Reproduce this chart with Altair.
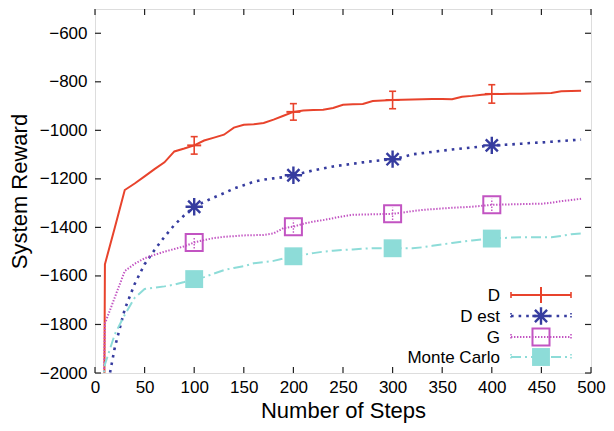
import altair as alt
import pandas as pd

# ---------------- data ----------------
steps = list(range(0, 500, 10))  # 0 .. 490

d_vals = [-10500, -1552, -1400, -1246, -1219, -1190, -1160, -1132, -1087, -1075,
          -1062, -1042, -1030, -1018, -989, -977, -975, -970, -956, -940,
          -924, -918, -916, -915, -908, -895, -893, -891, -879, -877,
          -875, -874, -873, -872, -871, -871, -872, -862, -858, -853,
          -850, -850, -849, -849, -848, -847, -846, -839, -838, -837]

dest_vals = [-4000, -2110, -1894, -1737, -1633, -1552, -1493, -1439, -1390, -1350,
             -1315, -1295, -1276, -1259, -1240, -1226, -1212, -1203, -1198, -1193,
             -1185, -1175, -1165, -1157, -1149, -1143, -1138, -1132, -1127, -1123,
             -1119, -1110, -1099, -1094, -1089, -1084, -1079, -1075, -1071, -1066,
             -1062, -1060, -1058, -1055, -1052, -1050, -1047, -1044, -1041, -1038]

g_vals = [-3800, -1796, -1688, -1580, -1550, -1527, -1513, -1500, -1489, -1478,
          -1462, -1452, -1444, -1439, -1436, -1433, -1432, -1431, -1425, -1403,
          -1397, -1385, -1376, -1370, -1362, -1354, -1348, -1347, -1346, -1345,
          -1344, -1339, -1333, -1328, -1325, -1322, -1319, -1317, -1315, -1311,
          -1307, -1306, -1305, -1304, -1303, -1303, -1298, -1292, -1287, -1282]

mc_vals = [-2300, -1965, -1840, -1760, -1690, -1654, -1648, -1643, -1636, -1625,
           -1613, -1605, -1590, -1576, -1567, -1560, -1548, -1543, -1538, -1528,
           -1519, -1513, -1506, -1500, -1496, -1493, -1491, -1488, -1486, -1486,
           -1486, -1486, -1486, -1482, -1476, -1470, -1464, -1459, -1454, -1450,
           -1446, -1444, -1442, -1441, -1441, -1441, -1441, -1435, -1428, -1425]

marker_steps = [100, 200, 300, 400]
d_err = [36, 34, 36, 38]
g_err = [25, 25, 25, 25]

series_names = ["D", "D est", "G", "Monte Carlo"]
series_colors = ["#e8432c", "#363c9f", "#c254c2", "#8ddcd8"]

x_ticks = list(range(0, 501, 50))
y_ticks = list(range(-2000, -599, 200))

# ---------------- layout / style ----------------
W, H = 496, 364
FONT = "Liberation Sans"
FRAME = "#222222"

rows = []
for name, vals in zip(series_names, [d_vals, dest_vals, g_vals, mc_vals]):
    for s, v in zip(steps, vals):
        rows.append({"series": name, "step": s, "value": v})
df = pd.DataFrame(rows)

err_rows = []
for name, errs in [("D", d_err), ("G", g_err)]:
    for s, e in zip(marker_steps, errs):
        v = df[(df.series == name) & (df.step == s)].value.iloc[0]
        err_rows.append({"series": name, "step": s, "value": v, "lo": v - e, "hi": v + e})
edf = pd.DataFrame(err_rows)

xscale = alt.Scale(domain=[0, 500], nice=False)
yscale = alt.Scale(domain=[-2000, -500], nice=False)

x_axis = alt.Axis(values=x_ticks, title="Number of Steps", ticks=False, domain=False,
                  grid=False, labelFontSize=17, titleFontSize=22, labelPadding=6,
                  titlePadding=5, titleFontWeight="normal", labelColor="black",
                  titleColor="black", labelFont=FONT, titleFont=FONT, format="d",
                  labelFlush=False, labelOverlap=False)
y_axis = alt.Axis(values=y_ticks, title="System Reward", ticks=False, domain=False,
                  grid=False, labelFontSize=17, titleFontSize=22, labelPadding=8,
                  titlePadding=8, titleFontWeight="normal", labelColor="black",
                  titleColor="black", labelFont=FONT, titleFont=FONT, format="d",
                  labelFlush=False, labelOverlap=False)


def X(field):
    return alt.X(field, scale=xscale, axis=x_axis)


def Y(field):
    return alt.Y(field, scale=yscale, axis=y_axis)


styles = {
    "D": dict(strokeWidth=2),
    "D est": dict(strokeWidth=2.6, strokeDash=[2.6, 5]),
    "G": dict(strokeWidth=2, strokeDash=[1.4, 1.6]),
    "Monte Carlo": dict(strokeWidth=2, strokeDash=[10, 4, 2, 4]),
}
color_of = dict(zip(series_names, series_colors))

layers = []
for name in series_names:
    layers.append(
        alt.Chart(df).transform_filter(alt.datum.series == name)
        .mark_line(clip=True, color=color_of[name], **styles[name])
        .encode(x=X("step:Q"), y=Y("value:Q"), order="step:Q")
    )

mk = alt.FieldOneOfPredicate(field="step", oneOf=marker_steps)

# error bars
for name in ["D", "G"]:
    st = dict(strokeWidth=1.6) if name == "D" else dict(strokeWidth=1.4, strokeDash=[1.4, 1.6])
    base_e = alt.Chart(edf).transform_filter(alt.datum.series == name)
    layers.append(base_e.mark_rule(color=color_of[name], **st).encode(
        x=X("step:Q"), y=Y("lo:Q"), y2="hi:Q"))
    if name == "D":
        for f in ["lo", "hi"]:
            layers.append(base_e.mark_tick(orient="horizontal", size=7, thickness=1.6,
                                           color=color_of[name], opacity=1).encode(
                x=X("step:Q"), y=Y(f + ":Q")))

# markers
plus_path = "M-1,0L1,0M0,-1L0,1"
star_path = "M-1,0L1,0M0,-1L0,1M-0.7,-0.7L0.7,0.7M-0.7,0.7L0.7,-0.7"
mdf = alt.Chart(df).transform_filter(mk)
layers.append(mdf.transform_filter(alt.datum.series == "D")
              .mark_tick(orient="horizontal", size=14, thickness=2, color=color_of["D"], opacity=1)
              .encode(x=X("step:Q"), y=Y("value:Q")))
layers.append(mdf.transform_filter(alt.datum.series == "D est")
              .mark_point(shape=star_path, filled=False, size=300, strokeWidth=2.4,
                          color=color_of["D est"], opacity=1)
              .encode(x=X("step:Q"), y=Y("value:Q")))
layers.append(mdf.transform_filter(alt.datum.series == "G")
              .mark_point(shape="square", filled=False, size=290, strokeWidth=2,
                          color=color_of["G"], opacity=1)
              .encode(x=X("step:Q"), y=Y("value:Q")))
layers.append(mdf.transform_filter(alt.datum.series == "Monte Carlo")
              .mark_square(size=320, color=color_of["Monte Carlo"], opacity=1)
              .encode(x=X("step:Q"), y=Y("value:Q")))

# inward frame ticks
xt = pd.DataFrame({"step": x_ticks})
yt = pd.DataFrame({"value": y_ticks})
layers.append(alt.Chart(xt).mark_rule(color=FRAME, strokeWidth=1.2).encode(
    x=X("step:Q"), y=alt.value(H), y2=alt.value(H - 6)))
layers.append(alt.Chart(xt).mark_rule(color=FRAME, strokeWidth=1.2).encode(
    x=X("step:Q"), y=alt.value(0), y2=alt.value(6)))
layers.append(alt.Chart(yt).mark_rule(color=FRAME, strokeWidth=1.2).encode(
    y=Y("value:Q"), x=alt.value(0), x2=alt.value(6)))
layers.append(alt.Chart(yt).mark_rule(color=FRAME, strokeWidth=1.2).encode(
    y=Y("value:Q"), x=alt.value(W), x2=alt.value(W - 6)))

# legend (drawn in pixel space, bottom-right inside plot)
leg_y = [286, 307, 328, 348]
LX_LABEL, LX0, LX1, LXM = W - 91, W - 80, W - 20, W - 50
leg_df = pd.DataFrame({"name": series_names})
marker_marks = {
    "D": dict(kind="point", shape=plus_path, size=256, strokeWidth=2),
    "D est": dict(kind="point", shape=star_path, size=300, strokeWidth=2.4),
    "G": dict(kind="point", shape="square", size=290, strokeWidth=2),
    "Monte Carlo": dict(kind="square", size=320),
}
for name, yy in zip(series_names, leg_y):
    c = color_of[name]
    ld = alt.Chart(leg_df).transform_filter(alt.datum.name == name)
    layers.append(ld.mark_text(align="right", baseline="middle", fontSize=17, font=FONT,
                               color="black").encode(
        x=alt.value(LX_LABEL), y=alt.value(yy + 1), text="name:N"))
    layers.append(ld.mark_rule(color=c, **styles[name]).encode(
        x=alt.value(LX0), x2=alt.value(LX1), y=alt.value(yy)))
    cap_st = dict(strokeWidth=1.6) if name == "D" else dict(strokeWidth=1.6, strokeDash=[1.5, 1.5])
    for xx in [LX0, LX1]:
        layers.append(ld.mark_rule(color=c, **cap_st).encode(
            x=alt.value(xx), y=alt.value(yy - 3), y2=alt.value(yy + 3)))
    m = marker_marks[name]
    if m["kind"] == "point":
        layers.append(ld.mark_point(shape=m["shape"], size=m["size"], strokeWidth=m["strokeWidth"],
                                    filled=False, color=c, opacity=1).encode(
            x=alt.value(LXM), y=alt.value(yy)))
    else:
        layers.append(ld.mark_square(size=m["size"], color=c, opacity=1).encode(
            x=alt.value(LXM), y=alt.value(yy)))

chart = alt.layer(*layers).properties(
    width=W, height=H,
    autosize=alt.AutoSizeParams(type="none"),
    padding={"left": 87, "top": 1, "right": 15, "bottom": 50},
).configure_view(stroke=FRAME, strokeWidth=1.5).configure(font=FONT, background="white")

chart.save("out.html", embed_options={"renderer": "svg", "actions": False})
